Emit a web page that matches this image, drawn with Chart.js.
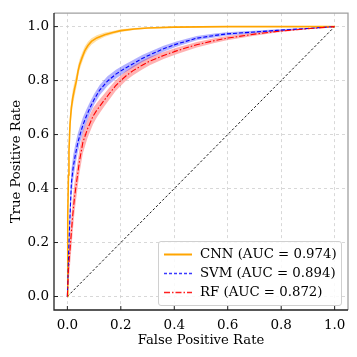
<!DOCTYPE html>
<html>
<head>
<meta charset="utf-8">
<script src="https://cdn.jsdelivr.net/npm/chart.js@4"></script>
<style>
  body { margin: 0; background: #fff; }
  #wrap { position: relative; width: 357px; height: 357px; }
  #legend {
    position: absolute; left: 158px; top: 241px; width: 182px; height: 63px;
    border: 1px solid #d0d0d0; border-radius: 3px; background: rgba(255,255,255,0.85);
    font-family: "DejaVu Serif", serif; font-size: 13.3px; color: #000;
  }
  #legend .row { position: absolute; left: 0; height: 18px; line-height: 18px; white-space: nowrap; }
  #legend svg { position: absolute; left: 5px; top: 8px; }
  #legend span { position: absolute; left: 41px; top: 0; }
</style>
</head>
<body>
<div id="wrap">
  <canvas id="roc" width="357" height="357"></canvas>
  <div id="legend"></div>
</div>
<script>
var models = ["CNN", "SVM", "RF"];
var aucs = ["0.974", "0.894", "0.872"];
var ticks = [0.0, 0.2, 0.4, 0.6, 0.8, 1.0];

var cnnFpr = [0, 0.001, 0.002, 0.004, 0.006, 0.01, 0.015, 0.02, 0.027, 0.034, 0.04, 0.046, 0.055, 0.065, 0.077, 0.09, 0.11, 0.14, 0.17, 0.2, 0.25, 0.3, 0.4, 0.5, 0.6, 0.8, 1.0];
var cnnTpr = [0, 0.15, 0.3, 0.45, 0.54, 0.64, 0.7, 0.735, 0.77, 0.8, 0.835, 0.86, 0.885, 0.91, 0.93, 0.945, 0.958, 0.97, 0.978, 0.985, 0.991, 0.995, 0.998, 0.999, 1.0, 1.0, 1.0];
var cnnStd = [0, 0.03, 0.04, 0.04, 0.04, 0.035, 0.03, 0.03, 0.028, 0.025, 0.022, 0.02, 0.018, 0.016, 0.014, 0.012, 0.01, 0.008, 0.006, 0.005, 0.004, 0.003, 0.002, 0.001, 0.001, 0, 0];

var svmFpr = [0, 0.003, 0.006, 0.01, 0.015, 0.022, 0.03, 0.038, 0.046, 0.058, 0.071, 0.085, 0.1, 0.121, 0.15, 0.183, 0.215, 0.246, 0.28, 0.308, 0.36, 0.408, 0.484, 0.55, 0.597, 0.7, 0.784, 0.9, 1.0];
var svmTpr = [0, 0.1, 0.2, 0.3, 0.42, 0.48, 0.525, 0.565, 0.595, 0.635, 0.668, 0.7, 0.73, 0.765, 0.798, 0.825, 0.845, 0.862, 0.882, 0.895, 0.918, 0.935, 0.957, 0.967, 0.973, 0.98, 0.986, 0.993, 1.0];
var svmStd = [0, 0.04, 0.05, 0.05, 0.05, 0.045, 0.04, 0.035, 0.032, 0.028, 0.025, 0.022, 0.02, 0.019, 0.018, 0.016, 0.015, 0.014, 0.013, 0.012, 0.011, 0.01, 0.008, 0.007, 0.006, 0.005, 0.004, 0.002, 0];

var rfFpr = [0, 0.004, 0.008, 0.012, 0.02, 0.027, 0.034, 0.045, 0.058, 0.075, 0.096, 0.11, 0.125, 0.14, 0.158, 0.18, 0.2, 0.22, 0.246, 0.28, 0.308, 0.36, 0.408, 0.484, 0.55, 0.597, 0.7, 0.784, 0.9, 1.0];
var rfTpr = [0, 0.1, 0.15, 0.2, 0.3, 0.37, 0.42, 0.5, 0.571, 0.62, 0.668, 0.69, 0.71, 0.73, 0.753, 0.78, 0.8, 0.818, 0.837, 0.857, 0.872, 0.893, 0.91, 0.933, 0.948, 0.957, 0.972, 0.982, 0.992, 1.0];
var rfStd = [0, 0.05, 0.06, 0.06, 0.06, 0.055, 0.05, 0.045, 0.04, 0.034, 0.03, 0.027, 0.025, 0.023, 0.022, 0.02, 0.019, 0.018, 0.017, 0.016, 0.015, 0.013, 0.012, 0.01, 0.009, 0.008, 0.006, 0.004, 0.002, 0];

var lineColors = ["#ffa500", "#0000ff", "#ff0000"];
var bandColors = ["rgba(255,165,0,0.35)", "rgba(0,0,255,0.3)", "rgba(255,0,0,0.3)"];
var dashes = [[], [4, 2], [6, 2, 1.5, 2]];

function pts(xs, ys, off, sign) {
  return xs.map(function (x, i) {
    var y = ys[i] + (off ? sign * off[i] : 0);
    return { x: x, y: Math.max(0, Math.min(1, y)) };
  });
}

var curves = [[cnnFpr, cnnTpr, cnnStd], [svmFpr, svmTpr, svmStd], [rfFpr, rfTpr, rfStd]];
var datasets = [];
curves.forEach(function (c, k) {
  datasets.push({
    label: models[k] + " upper", data: pts(c[0], c[1], c[2], 1),
    borderWidth: 0, pointRadius: 0, backgroundColor: bandColors[k], fill: "+1", order: 10 + k
  });
  datasets.push({
    label: models[k] + " lower", data: pts(c[0], c[1], c[2], -1),
    borderWidth: 0, pointRadius: 0, fill: false, order: 10 + k
  });
});
curves.forEach(function (c, k) {
  datasets.push({
    label: models[k] + " (AUC = " + aucs[k] + ")", data: pts(c[0], c[1]),
    borderColor: lineColors[k], borderWidth: k == 0 ? 1.6 : 1.1, borderDash: dashes[k],
    pointRadius: 0, fill: false, order: 3 - k
  });
});
datasets.push({
  label: "chance", data: [{ x: 0, y: 0 }, { x: 1, y: 1 }],
  borderColor: "#000", borderWidth: 0.9, borderDash: [2.5, 2], pointRadius: 0, fill: false, order: 20
});

var fam = "'DejaVu Serif', serif";

var frame = {
  id: "frame",
  afterDraw: function (chart) {
    var ctx = chart.ctx, a = chart.chartArea;
    ctx.save();
    ctx.lineWidth = 1.3;
    ctx.strokeStyle = "#a0a0a0";
    ctx.beginPath();
    ctx.moveTo(a.left, a.top); ctx.lineTo(a.right, a.top); ctx.lineTo(a.right, a.bottom);
    ctx.stroke();
    ctx.strokeStyle = "#222";
    ctx.beginPath();
    ctx.moveTo(a.left, a.top); ctx.lineTo(a.left, a.bottom); ctx.lineTo(a.right, a.bottom);
    ctx.stroke();
    ctx.lineWidth = 1;
    ticks.forEach(function (t) {
      var px = chart.scales.x.getPixelForValue(t), py = chart.scales.y.getPixelForValue(t);
      ctx.beginPath();
      ctx.moveTo(px, a.bottom); ctx.lineTo(px, a.bottom - 4);
      ctx.moveTo(a.left, py); ctx.lineTo(a.left + 4, py);
      ctx.stroke();
    });
    ctx.restore();
  }
};

function axis(title, isY) {
  return {
    type: "linear", min: -0.05, max: 1.05,
    afterBuildTicks: function (s) { s.ticks = ticks.map(function (v) { return { value: v }; }); },
    afterFit: function (s) { if (isY) s.width = 54; else s.height = 47; },
    border: { display: false, dash: [3, 3] },
    grid: { color: "#cfcfcf", lineWidth: 0.8, drawTicks: false },
    ticks: { color: "#000", font: { family: fam, size: 13.5 }, padding: isY ? 5 : 7, callback: function (v) { return v.toFixed(1); } },
    title: {
      display: true, text: title, color: "#000", font: { family: fam, size: 13.2 },
      padding: isY ? { top: 9, bottom: 0 } : { top: 0, bottom: 9 }
    }
  };
}

new Chart(document.getElementById("roc"), {
  type: "line",
  data: { datasets: datasets },
  options: {
    responsive: false,
    animation: false,
    parsing: false,
    layout: { padding: { top: 9, right: 9, left: 0, bottom: 0 } },
    plugins: { legend: { display: false }, tooltip: { enabled: false } },
    scales: { x: axis("False Positive Rate", false), y: axis("True Positive Rate", true) }
  },
  plugins: [frame]
});

// legend built from the same arrays
var leg = document.getElementById("legend");
var dashAttr = ["", "3,2", "6,2,1.5,2"];
var legendColors = ["#ffa500", "#3a3aff", "#ff2020"];
models.forEach(function (m, k) {
  var row = document.createElement("div");
  row.className = "row";
  row.style.top = (3 + k * 19) + "px";
  row.innerHTML = '<svg width="28" height="3"><line x1="0" y1="1.5" x2="28" y2="1.5" stroke="' + legendColors[k] +
    '" stroke-width="' + (k == 0 ? 2 : 1.5) + '" stroke-dasharray="' + dashAttr[k] + '"/></svg>' +
    '<span>' + m + ' (AUC = ' + aucs[k] + ')</span>';
  leg.appendChild(row);
});
</script>
</body>
</html>
